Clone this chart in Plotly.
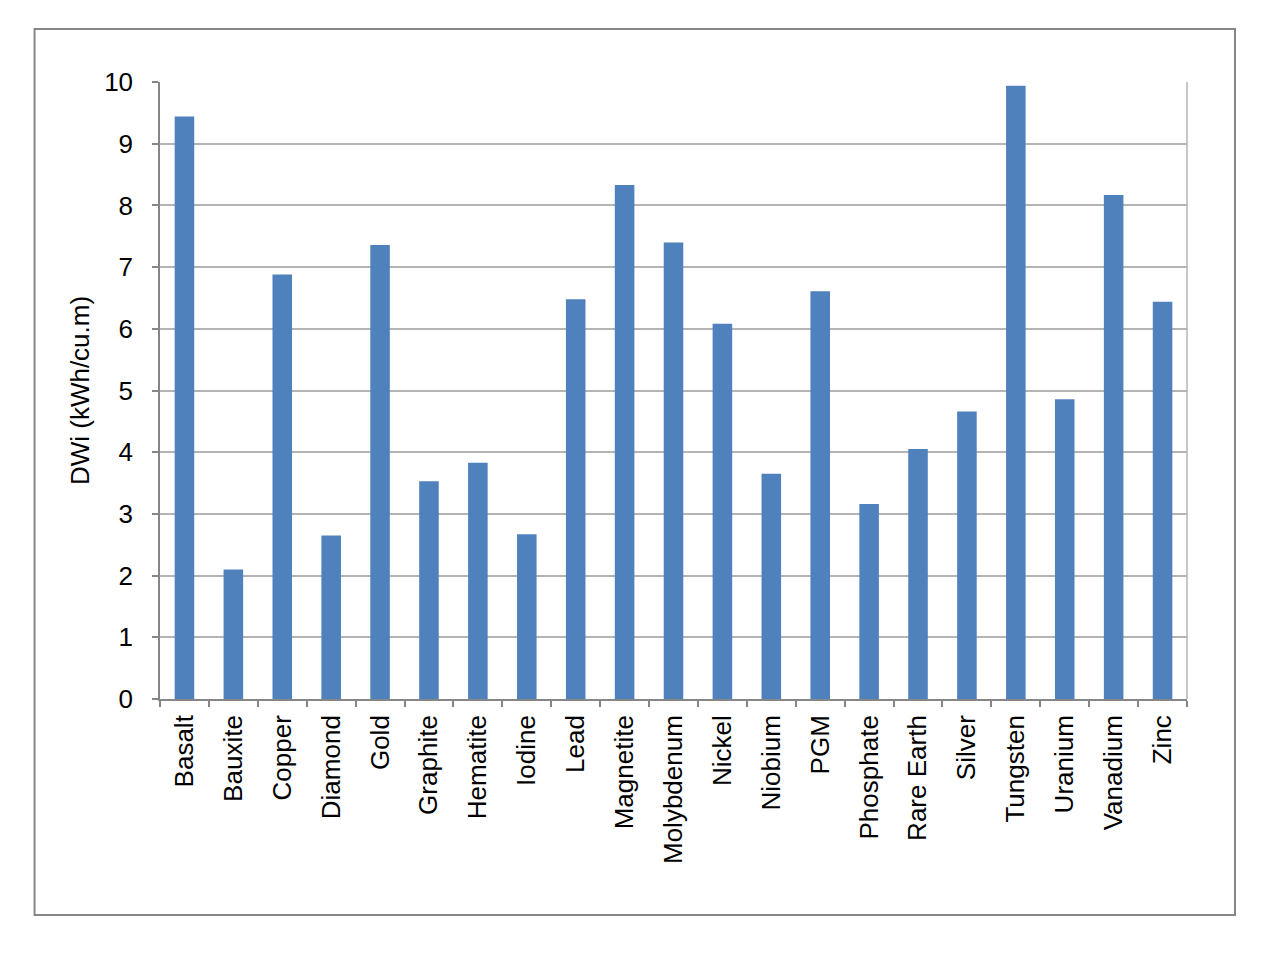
import plotly.graph_objects as go

categories = ["Basalt", "Bauxite", "Copper", "Diamond", "Gold", "Graphite", "Hematite",
              "Iodine", "Lead", "Magnetite", "Molybdenum", "Nickel", "Niobium", "PGM",
              "Phosphate", "Rare Earth", "Silver", "Tungsten", "Uranium", "Vanadium", "Zinc"]
dwi_values = [9.44, 2.10, 6.88, 2.65, 7.36, 3.53, 3.83,
              2.67, 6.48, 8.33, 7.40, 6.08, 3.65, 6.61,
              3.16, 4.05, 4.66, 9.94, 4.86, 8.17, 6.44]
y_ticks = [0, 1, 2, 3, 4, 5, 6, 7, 8, 9, 10]

FONT = "Liberation Sans, Arial, sans-serif"
AXIS_GRAY = "#868686"
GRID_GRAY = "#b4b4b4"
FS = 26

fig = go.Figure(go.Bar(
    x=categories, y=dwi_values,
    marker=dict(color="#4F81BD", line=dict(width=0)),
    width=0.4,
))

L, R, T, B = 159.5, 1187, 82, 699
W, H = 1265, 953
pw, ph = R - L, B - T

def px_x(x):
    return (x - L) / pw

def px_y(y):
    return (B - y) / ph

fig.update_layout(
    width=W, height=H,
    margin=dict(l=L, r=W - R, t=T, b=H - B, pad=0),
    paper_bgcolor="white", plot_bgcolor="white",
    showlegend=False,
    font=dict(family=FONT, size=FS, color="black"),
    bargap=0.6,
    xaxis=dict(
        type="category",
        tickangle=-90,
        tickson="boundaries",
        ticks="outside", ticklen=6, tickcolor=AXIS_GRAY, tickwidth=1.5,
        showline=True, linecolor=AXIS_GRAY, linewidth=1.5,
        showgrid=False,
        tickfont=dict(family=FONT, size=FS, color="black"),
        ticklabelstandoff=4,
        automargin=False,
    ),
    yaxis=dict(
        range=[0, 10],
        tickvals=y_ticks,
        ticktext=[str(v) for v in y_ticks],
        ticks="outside", ticklen=6, tickcolor=AXIS_GRAY, tickwidth=1.5,
        showline=True, linecolor=AXIS_GRAY, linewidth=1.5,
        showgrid=True, gridcolor=GRID_GRAY, gridwidth=1.5,
        zeroline=False,
        tickfont=dict(family=FONT, size=FS, color="black"),
        ticklabelstandoff=14,
        title=dict(text="DWi (kWh/cu.m)", font=dict(family=FONT, size=FS, color="black"), standoff=7),
        automargin=False,
    ),
    shapes=[
        dict(type="line", xref="paper", yref="paper", x0=1, x1=1, y0=0, y1=1,
             line=dict(color=GRID_GRAY, width=1.5)),
        dict(type="rect", xref="paper", yref="paper",
             x0=px_x(34), x1=px_x(1235), y0=px_y(915), y1=px_y(29),
             line=dict(color=AXIS_GRAY, width=2), fillcolor="rgba(0,0,0,0)", layer="below"),
    ],
)

fig.write_html("out.html")
